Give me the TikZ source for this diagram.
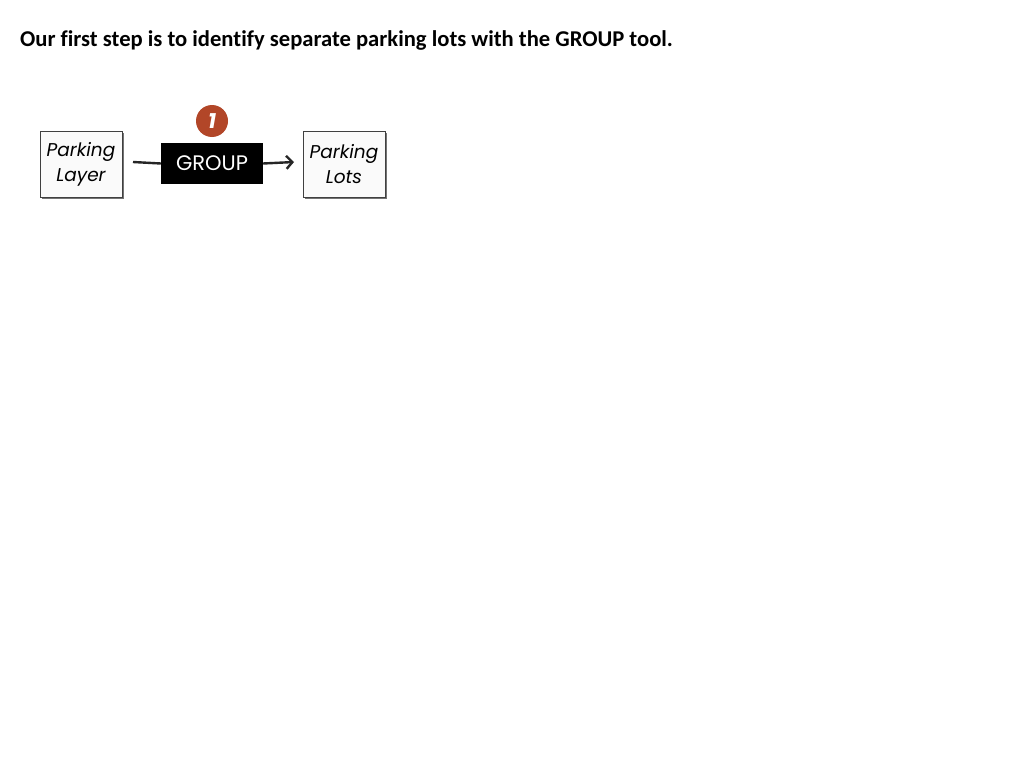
\documentclass[tikz,border=0pt]{standalone}
\usetikzlibrary{arrows.meta}
\usepackage{fontspec}
\setmainfont{Carlito}[Ligatures=NoCommon]
\newfontfamily\diafont{Poppins}
\begin{document}
\begin{tikzpicture}[x=1pt,y=-1pt,
  lbox/.style={draw=black!75,line width=0.8pt,fill=black!2,minimum width=82pt,minimum height=66pt,inner sep=0pt,align=center,font=\diafont\itshape\fontsize{18.5}{25}\selectfont},
  gbox/.style={fill=black,minimum width=102pt,minimum height=41pt,inner sep=0pt,text=white,font=\diafont\fontsize{21}{24}\selectfont},
  conn/.style={line width=2.4pt,black!85}]
\useasboundingbox[fill=white] (0,0) rectangle (1024,768);
\node[anchor=base west,inner sep=0pt,font=\bfseries\fontsize{22.6}{26}\selectfont] (title) at (20,46) {Our first step is to identify separate parking lots with the GROUP tool.};
\fill[black!55] (42,133) rectangle (123.5,198.5);
\node[lbox] (layer) at (81,164.5) {Parking\\Layer};
\fill[black!55] (305,133) rectangle (386.5,198.5);
\node[lbox,text depth=0pt] (lots) at (344,164) {Parking\\Lots};
\node[gbox] (group) at (212,163.5) {GROUP};
\node[circle,fill={rgb,255:red,178;green,70;blue,40},minimum size=32pt,inner sep=0pt,text=white,font=\diafont\bfseries\itshape\fontsize{21}{22}\selectfont] (one) at (212,121) {1};
\coordinate (s) at (133,162);
\coordinate (e) at (294,162);
\draw[conn] (s) -- (group.west);
\draw[conn,-{Straight Barb[length=6pt,width=13pt]}] (group.east) -- (e);
\end{tikzpicture}
\end{document}
